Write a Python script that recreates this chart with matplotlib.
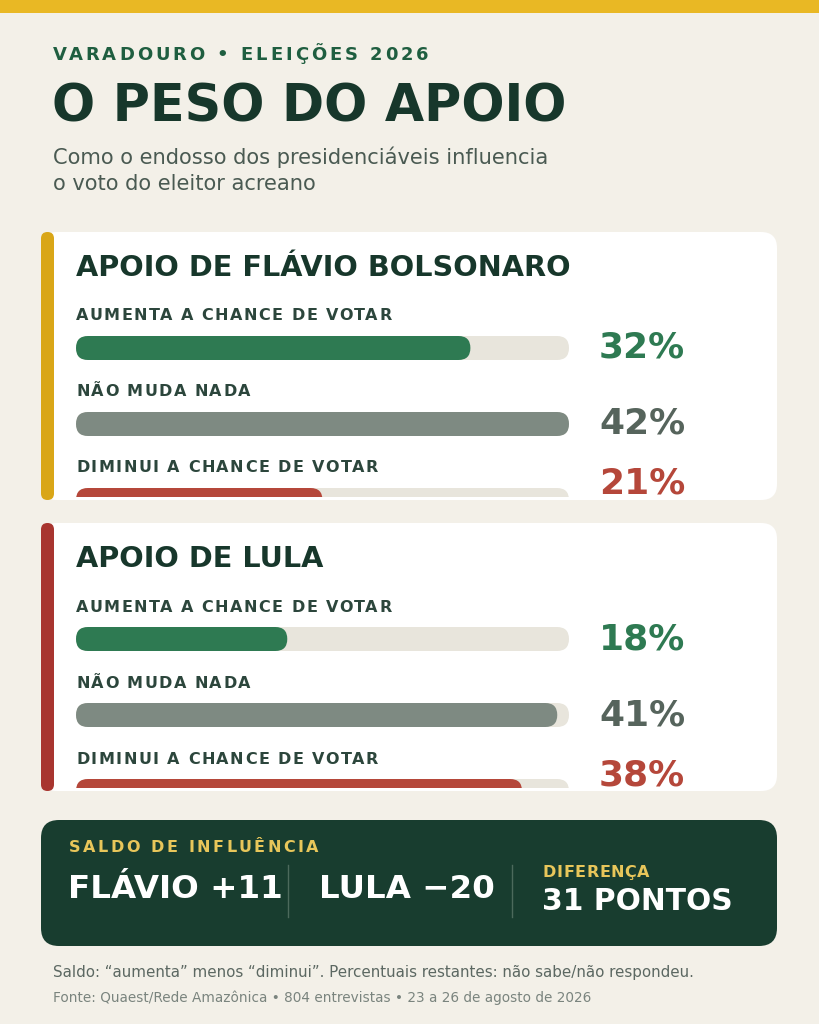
import matplotlib
matplotlib.use("Agg")
import matplotlib.pyplot as plt
from matplotlib.patches import FancyBboxPatch, Rectangle
from matplotlib.font_manager import FontProperties

# dados
rows = ["AUMENTA A CHANCE DE VOTAR", "NÃO MUDA NADA", "DIMINUI A CHANCE DE VOTAR"]
flavio_pct = [32, 42, 21]
lula_pct = [18, 41, 38]
# comprimento das barras como aparecem no grafico (pontos, escala ate 42)
flavio_bar = [33.6, 42, 21]
lula_bar = [18, 41, 38]
scale_max = 42
saldo_flavio = flavio_pct[0] - flavio_pct[2]
saldo_lula = lula_pct[0] - lula_pct[2]
diferenca = saldo_flavio - saldo_lula

# cores
BG = "#F3F0E8"
GOLD = "#E9B824"
DKGREEN = "#17372B"
KICK = "#1F5E40"
GREEN = "#2E7A52"
GREY = "#7E8A82"
GREYTXT = "#56645C"
RED = "#B5473A"
TRACK = "#E8E5DC"
LABEL = "#2C463C"

plt.rcParams["font.family"] = ["DejaVu Sans"]
fig = plt.figure(figsize=(8.19, 10.24), dpi=100)
fig.patch.set_facecolor(BG)
ax = fig.add_axes([0, 0, 1, 1])
ax.set_xlim(0, 819)
ax.set_ylim(1024, 0)
ax.axis("off")
renderer = fig.canvas.get_renderer()

def px(s):
    return s * 0.72

def width(s, size, weight):
    fp = FontProperties(family="DejaVu Sans", size=px(size), weight=weight)
    w, h, d = renderer.get_text_width_height_descent(s, fp, ismath=False)
    return w

def spaced(x, y, s, size, color, spacing, weight="bold"):
    # texto com espacamento entre letras
    for i, ch in enumerate(s):
        if ch == " ":
            continue
        pos = width(s[:i + 1], size, weight) - width(ch, size, weight)
        ax.text(x + pos + i * spacing, y, ch, fontsize=px(size), color=color,
                weight=weight, va="center", ha="left", zorder=6)

def rbox(x, y, w, h, r, color, z=1):
    p = FancyBboxPatch((x + r, y + r), w - 2 * r, h - 2 * r,
                       boxstyle=f"round,pad={r}", fc=color, ec="none", zorder=z)
    ax.add_patch(p)
    return p

# faixa do topo
ax.add_patch(Rectangle((0, 0), 819, 13, fc=GOLD, ec="none"))

spaced(53, 55.5, "VARADOURO • ELEIÇÕES 2026", 18, KICK, 2.95)
ax.text(52, 107, "O PESO DO APOIO", fontsize=px(50.8), weight="bold", color=DKGREEN,
        va="center", ha="left")
ax.text(53, 157, "Como o endosso dos presidenciáveis influencia", fontsize=px(21),
        color="#4A5A52", va="center")
ax.text(53, 184, "o voto do eleitor acreano", fontsize=px(21), color="#4A5A52", va="center")

def card(top, title, accent, pct, bar):
    rbox(41, top, 736, 268, 16, "white", 1)
    rbox(41, top, 13, 268, 6.5, accent, 2)
    ax.text(75.5, top + 36, title, fontsize=px(28.8), weight="bold", color=DKGREEN,
            va="center", ha="left", zorder=3)
    clip = Rectangle((0, top), 819, 265, transform=ax.transData)
    tw = 493
    cols = [GREEN, GREY, RED]
    tcols = [GREEN, GREYTXT, RED]
    for i, lab in enumerate(rows):
        ly = top + 84 + 76 * i
        spaced(76, ly, lab, 16, LABEL, 1.45)
        ty = top + 104 + 76 * i
        tr = rbox(76, ty, tw, 24, 12, TRACK, 3)
        b = rbox(76, ty, tw * bar[i] / scale_max, 24, 12, cols[i], 4)
        tr.set_clip_path(clip)
        b.set_clip_path(clip)
        py = ty + 12 if i < 2 else ty - 4
        ax.text(599, py, f"{pct[i]}%", fontsize=px(36), weight="bold",
                color=tcols[i], va="center", ha="left", zorder=5)

card(232, "APOIO DE FLÁVIO BOLSONARO", "#D9A617", flavio_pct, flavio_bar)
card(523, "APOIO DE LULA", "#A8352F", lula_pct, lula_bar)

# saldo
rbox(41, 820, 736, 126, 18, "#183D2F", 1)
spaced(69, 847.5, "SALDO DE INFLUÊNCIA", 16, "#E8C65A", 2.5)
ax.text(68, 890, f"FLÁVIO +{saldo_flavio}", fontsize=px(32.5), weight="bold",
        color="white", va="center", ha="left")
ax.plot([288, 288], [865, 917], color="#4C6A5C", lw=1)
ax.text(319, 890, f"LULA \u2212{abs(saldo_lula)}", fontsize=px(32.5), weight="bold",
        color="white", va="center", ha="left")
ax.plot([512, 512], [865, 917], color="#4C6A5C", lw=1)
spaced(543, 872.5, "DIFERENÇA", 16, "#E8C65A", 0.5)
ax.text(542, 901, f"{diferenca} PONTOS", fontsize=px(29.7), weight="bold",
        color="white", va="center", ha="left")

ax.text(53, 973, "Saldo: “aumenta” menos “diminui”. Percentuais restantes: não sabe/não respondeu.",
        fontsize=px(15.1), color="#5C6862", va="center")
ax.text(53, 998, "Fonte: Quaest/Rede Amazônica • 804 entrevistas • 23 a 26 de agosto de 2026",
        fontsize=px(13.6), color="#7A847E", va="center")

fig.savefig("out.png", dpi=100, facecolor=BG)
